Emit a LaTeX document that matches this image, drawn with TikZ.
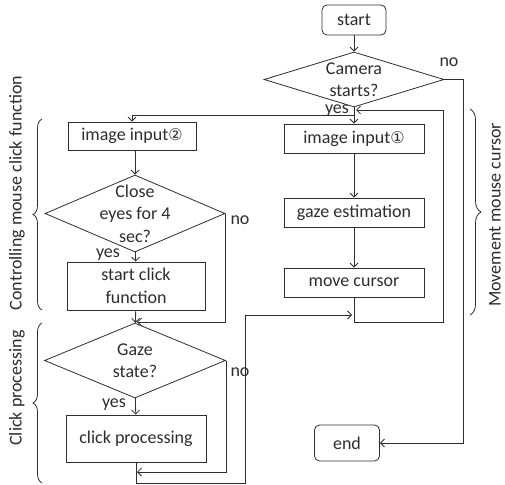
\documentclass[tikz,border=0pt]{standalone}
\usepackage{fontspec}
\setmainfont{Carlito}
\newfontfamily\circfont{DejaVu Sans}
\usetikzlibrary{shapes.geometric,decorations.pathreplacing,arrows.meta}
\definecolor{ink}{RGB}{45,45,45}
\tikzset{
  terminal/.style={
    draw,
    rounded corners=5pt,
    inner sep = 0pt,
    minimum width=64pt,
    minimum height=30pt
  },
  process/.style={
    draw,
    inner sep = 0pt,
    align=center,
    minimum width=140pt,
    minimum height=29pt
  },
  decision/.style={
    draw,
    shape = diamond,
    inner sep = 0pt,
    minimum width=180pt,
    minimum height=76pt
  },
  arr/.style={-{Straight Barb[length=4pt,width=8pt]}},
  bracket/.style={decorate, decoration={brace, amplitude=9pt}},
  every picture/.style = {
    x=1pt, y=-1pt,
    line width=0.8pt,
    color=ink,
    font=\fontsize{18}{22.5}\selectfont
  }
}
\newcommand{\circled}[1]{{\circfont\fontsize{16}{18}\selectfont #1}}

\begin{document}
\begin{tikzpicture}
        \useasboundingbox (0,0) rectangle (505,484);
        % right column
        \node[terminal] (start) at (354,20) {start};
        \node[decision, minimum height=55pt, label={[align=center, inner sep=0pt]center:Camera\\starts?}] (cam) at (354,79.5) {};
        \node[process] (in1) at (354,138.5) {image input\circled{①}};
        \node[process] (gazeest) at (354,212.5) {gaze estimation};
        \node[process] (move) at (354,282.5) {move cursor};
        \node[terminal, minimum width=65pt, minimum height=36pt] (end) at (347,443) {end};
        % left column
        \node[process, minimum width=128pt, minimum height=28pt] (in2) at (132,136) {image input\circled{②}};
        \node[decision, minimum height=77pt, label={[align=center]center:Close\\eyes for 4\\sec?}] (close) at (135,213.5) {};
        \node[process, minimum width=138pt, minimum height=48pt] (clickfn) at (136,286) {start click\\function};
        \node[decision, minimum width=181pt, minimum height=75pt, label={[align=center]center:Gaze\\state?}] (gazest) at (135,360.5) {};
        \node[process, minimum height=47pt] (proc) at (136,438.5) {click processing};
        % labels
        \node[inner sep=0pt] (yescam) at (337,111) {yes};
        \node (nocam) at (449,62) {no};
        \node (yesclose) at (108,255) {yes};
        \node (noclose) at (240,220) {no};
        \node (yesgaze) at (114,405) {yes};
        \node (nogaze) at (240,372) {no};
        \node[rotate=90] (ctrltxt) at (17,193) {Controlling mouse click function};
        \node[rotate=90] (clicktxt) at (17,388) {Click processing};
        \node[rotate=90] (movetxt) at (495,215) {Movement mouse cursor};
        % joints
        \coordinate (split) at (354,115);
        \coordinate (backin) at (356,110);
        \coordinate (loopr) at (443,322);
        \coordinate (nocorner) at (463,443);
        \coordinate (joina) at (137,322);
        \coordinate (joinb) at (137,472);
        \coordinate (procr) at (245,483);
        \coordinate (joinc) at (352,315);
        % connectors
        \draw[arr] (start) -- (cam);
        \draw[arr] (cam) -- (in1);
        \draw[arr] (split) -| (in2);
        \draw[arr] (in1) -- (gazeest);
        \draw[arr] (gazeest) -- (move);
        \draw[arr] (move) |- (loopr) |- (backin);
        \draw[arr] (cam.east) -| (nocorner) -- (end);
        \draw[arr] (in2.south -| close.north) -- (close);
        \draw[arr] (close) -- (clickfn);
        \draw[arr] (close.east) |- (joina);
        \draw[arr] (clickfn) -- (gazest);
        \draw[arr] (gazest) -- (proc);
        \draw[arr] (gazest.east) |- (joinb);
        \draw[arr] (proc) |- (procr) |- (joinc);
        % brackets
        \draw[bracket] (42,310) -- (42,119);
        \draw[bracket] (42,483) -- (42,323);
        \draw[bracket, decoration={amplitude=11pt}] (470,109) -- (470,315);
    \end{tikzpicture}
\end{document}
